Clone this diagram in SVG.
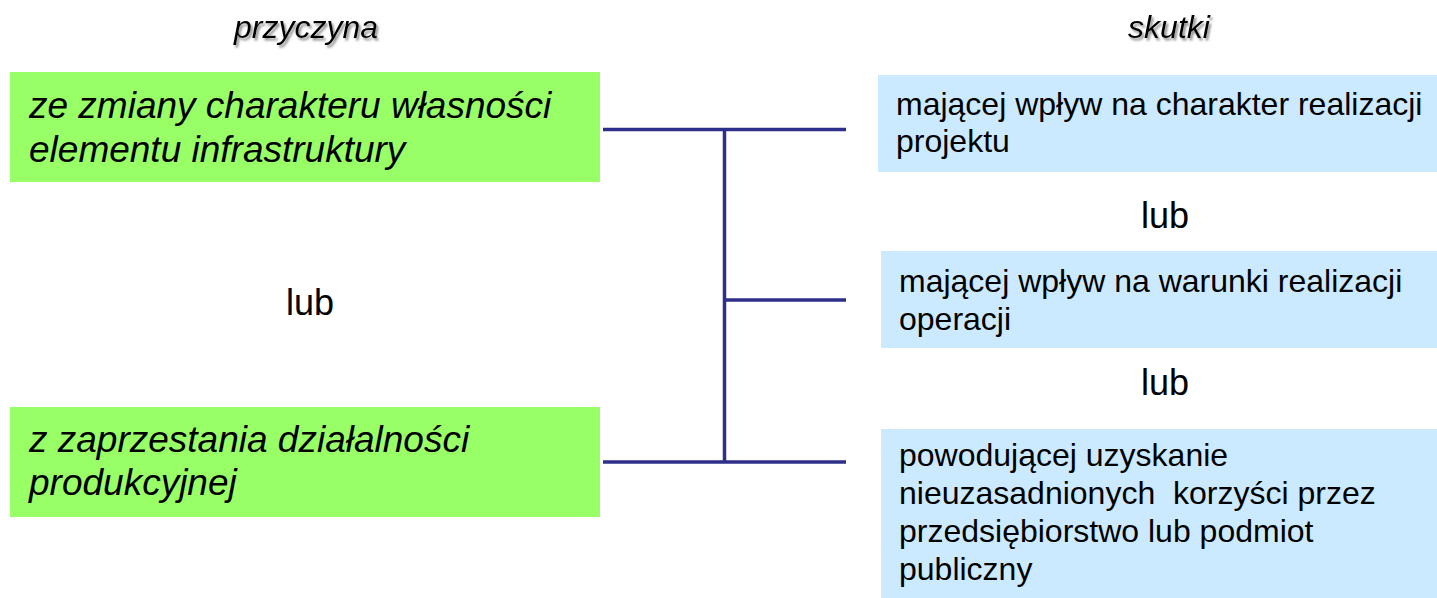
<svg xmlns="http://www.w3.org/2000/svg" width="1437" height="598" viewBox="0 0 1437 598">
<defs>
<filter id="sh" x="-10%" y="-30%" width="130%" height="180%">
<feDropShadow dx="2" dy="2.5" stdDeviation="1.2" flood-color="#777" flood-opacity="0.8"/>
</filter>
<style>
.g{fill:#99ff66}
.b{fill:#cceaff}
.t{font-family:"Liberation Sans",Arial,sans-serif;fill:#000}
.gi{font-size:37px;font-style:italic}
.bt{font-size:32px}
.hd{font-size:32px;font-style:italic;text-anchor:middle}
.lub{font-size:36px;text-anchor:middle}
.ln{stroke:#2d2f8a;stroke-width:3.5;fill:none}
</style>
</defs>
<rect width="1437" height="598" fill="#fff"/>
<g id="heading-przyczyna"><text class="t hd" x="306" y="38" filter="url(#sh)">przyczyna</text></g>
<g id="heading-skutki"><text class="t hd" x="1169" y="38" filter="url(#sh)">skutki</text></g>
<g id="cause1">
<rect class="g" x="10" y="72" width="590" height="110"/>
<text class="t gi" x="29" y="118">ze zmiany charakteru własności</text>
<text class="t gi" x="29" y="162">elementu infrastruktury</text>
</g>
<g id="lub-left"><text class="t lub" x="310" y="315">lub</text></g>
<g id="cause2">
<rect class="g" x="10" y="407" width="590" height="110"/>
<text class="t gi" x="29" y="452">z zaprzestania działalności</text>
<text class="t gi" x="29" y="495">produkcyjnej</text>
</g>
<g id="effect1">
<rect class="b" x="878" y="75" width="559" height="97"/>
<text class="t bt" x="896" y="115">mającej wpływ na charakter realizacji</text>
<text class="t bt" x="896" y="152">projektu</text>
</g>
<g id="lub-right1"><text class="t lub" x="1165" y="228">lub</text></g>
<g id="effect2">
<rect class="b" x="881" y="251" width="556" height="97"/>
<text class="t bt" x="899" y="292">mającej wpływ na warunki realizacji</text>
<text class="t bt" x="899" y="330">operacji</text>
</g>
<g id="lub-right2"><text class="t lub" x="1165" y="395">lub</text></g>
<g id="effect3">
<rect class="b" x="881" y="429" width="556" height="169"/>
<text class="t bt" x="899" y="466">powodującej uzyskanie</text>
<text class="t bt" x="899" y="504" xml:space="preserve" style="white-space:pre">nieuzasadnionych  korzyści przez</text>
<text class="t bt" x="899" y="542">przedsiębiorstwo lub podmiot</text>
<text class="t bt" x="899" y="580">publiczny</text>
</g>
<g id="connectors">
<line class="ln" x1="603" y1="129.5" x2="846" y2="129.5"/>
<line class="ln" x1="603" y1="462" x2="846" y2="462"/>
<line class="ln" x1="724.5" y1="129.5" x2="724.5" y2="462"/>
<line class="ln" x1="724.5" y1="300" x2="846" y2="300"/>
</g>
</svg>
